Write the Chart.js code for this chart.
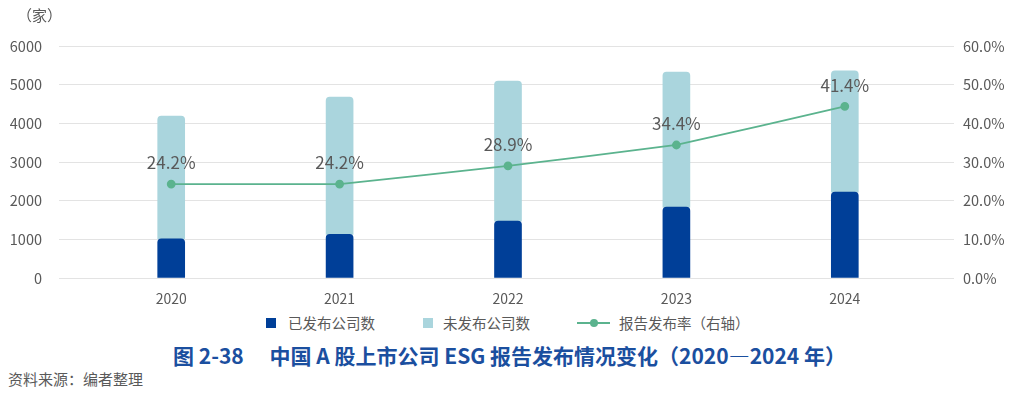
<!DOCTYPE html>
<html lang="zh">
<head>
<meta charset="utf-8">
<script src="https://cdn.jsdelivr.net/npm/chart.js@4"></script>
<style>
  body { margin: 0; background: #fff; font-family: "Noto Sans CJK SC", "Noto Sans", sans-serif; }
  #wrap { position: relative; width: 1014px; height: 393px; overflow: hidden; }
  #box { position: absolute; left: 0; top: 0; width: 1014px; height: 312px; }
  .t { position: absolute; white-space: nowrap; color: #595959; line-height: 1; }
  .sq { position: absolute; width: 10px; height: 10px; }
  #unit { left: 17px; top: 7px; font-size: 15px; }
  #title { left: 173px; top: 345px; font-size: 21px; font-weight: bold; color: #1b4f9f; }
  #source { left: 8px; top: 371px; font-size: 15px; }
</style>
</head>
<body>
<div id="wrap">
  <div id="box"><canvas id="chart"></canvas></div>
  <div class="t" id="unit">（家）</div>

  <div class="sq" style="left:266px; top:318px; background:#003f98;"></div>
  <div class="t" style="left:288px; top:316px; font-size:14.5px;">已发布公司数</div>
  <div class="sq" style="left:423px; top:318px; background:#aad5dd;"></div>
  <div class="t" style="left:443px; top:316px; font-size:14.5px;">未发布公司数</div>
  <div style="position:absolute; left:577px; top:322px; width:33px; height:2px; background:#5bb38e;"></div>
  <div style="position:absolute; left:590px; top:319px; width:8px; height:8px; border-radius:50%; background:#5bb38e;"></div>
  <div class="t" style="left:619px; top:316px; font-size:14.5px;">报告发布率（右轴）</div>

  <div class="t" id="title">图 2-38　 中国 A 股上市公司 ESG 报告发布情况变化（2020—2024 年）</div>
  <div class="t" id="source">资料来源：编者整理</div>
</div>
<script>
const years = ['2020', '2021', '2022', '2023', '2024'];
const published = [1014, 1130, 1470, 1834, 2220];
const unpublished = [3176, 3550, 3620, 3493, 3135];
// dots sit where the reference draws them; the text is what it prints above them
const ratePlotted = [24.3, 24.3, 29.0, 34.4, 44.4];
const rateLabels = ['24.2%', '24.2%', '28.9%', '34.4%', '41.4%'];

const TEXT = '#595959';
const GRID = '#e3e3e3';
const FONT = '"Noto Sans CJK SC", "Noto Sans", sans-serif';

// draws the percentage above each dot of the rate line
const rateLabelPlugin = {
    id: 'rateLabels',
    afterDatasetsDraw(chart) {
        const meta = chart.getDatasetMeta(2);
        const ctx = chart.ctx;
        ctx.save();
        ctx.font = '17px ' + FONT;
        ctx.fillStyle = TEXT;
        ctx.textAlign = 'center';
        ctx.textBaseline = 'middle';
        meta.data.forEach((pt, i) => {
            ctx.fillText(rateLabels[i], pt.x, pt.y - 21);
        });
        ctx.restore();
    }
};

new Chart(document.getElementById('chart'), {
    data: {
        labels: years,
        datasets: [
            {
                type: 'bar',
                label: '已发布公司数',
                data: published,
                backgroundColor: '#003f98',
                barThickness: 27,
                borderRadius: { topLeft: 4, topRight: 4, bottomLeft: 0, bottomRight: 0 },
                borderSkipped: false,
                yAxisID: 'y',
                order: 1
            },
            {
                type: 'bar',
                label: '未发布公司数',
                data: unpublished,
                backgroundColor: '#aad5dd',
                barThickness: 27,
                borderRadius: { topLeft: 4, topRight: 4, bottomLeft: 0, bottomRight: 0 },
                borderSkipped: false,
                yAxisID: 'y',
                order: 1
            },
            {
                type: 'line',
                label: '报告发布率（右轴）',
                data: ratePlotted,
                borderColor: '#5bb38e',
                backgroundColor: '#5bb38e',
                borderWidth: 1.8,
                pointRadius: 3.5,
                tension: 0.05,
                yAxisID: 'y1',
                order: 0
            }
        ]
    },
    options: {
        responsive: true,
        maintainAspectRatio: false,
        animation: false,
        layout: { padding: { top: 46, left: 0, right: 0, bottom: 0 } },
        plugins: {
            legend: { display: false },
            tooltip: { enabled: false }
        },
        scales: {
            x: {
                stacked: true,
                grid: { display: false, drawTicks: false },
                border: { display: false },
                ticks: { color: TEXT, font: { family: FONT, size: 14 }, padding: 12 },
                afterFit: s => { s.height = 34; }
            },
            y: {
                position: 'left',
                stacked: true,
                min: 0,
                max: 6000,
                ticks: {
                    stepSize: 1000,
                    color: TEXT,
                    font: { family: FONT, size: 14.5 },
                    padding: 17,
                    callback: v => String(v)
                },
                grid: { color: GRID, tickLength: 28 },
                border: { display: false },
                afterFit: s => { s.width = 87; }
            },
            y1: {
                position: 'right',
                min: 0,
                max: 60,
                ticks: {
                    stepSize: 10,
                    color: TEXT,
                    font: { family: FONT, size: 14.5 },
                    padding: 9,
                    callback: v => v.toFixed(1) + '%'
                },
                grid: { drawOnChartArea: false, color: GRID, tickLength: 25 },
                border: { display: false },
                afterFit: s => { s.width = 85; }
            }
        }
    },
    plugins: [rateLabelPlugin]
});
</script>
</body>
</html>
